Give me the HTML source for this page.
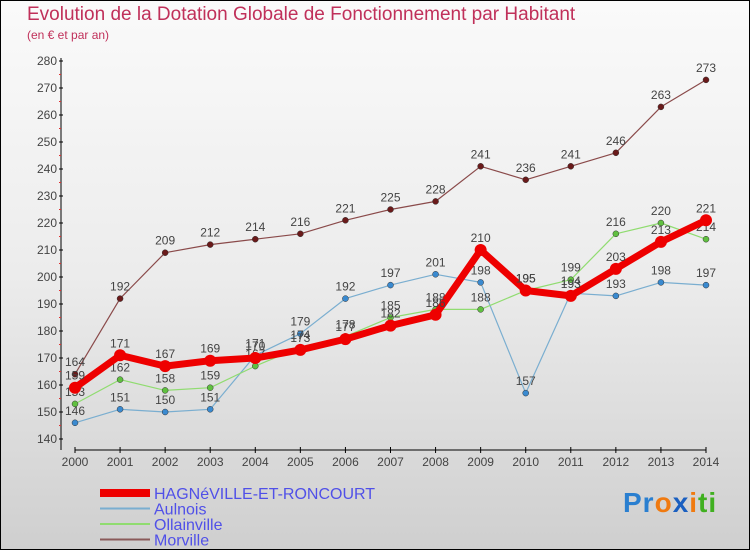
<!DOCTYPE html>
<html><head><meta charset="utf-8"><style>
body{margin:0;}
#wrap{width:748px;height:548px;border:1px solid #000;background:linear-gradient(#fafafa,#ececec 50%,#cfcfcf);position:relative;font-family:"Liberation Sans",sans-serif;overflow:hidden}
.t{position:absolute;white-space:nowrap}
</style></head><body>
<div id="wrap">
<div class="t" style="left:26px;top:3px;font-size:19px;color:#c0305a">Evolution de la Dotation Globale de Fonctionnement par Habitant</div>
<div class="t" style="left:26px;top:27px;font-size:12px;color:#c0305a">(en € et par an)</div>
<svg id="svg" width="750" height="550" style="position:absolute;left:-1px;top:-1px"></svg>
<div class="t" style="left:622px;top:486px;font-size:28px;font-weight:bold;letter-spacing:1px"><span style="color:#2a7fd0">Pr</span><span style="color:#f07a10">o</span><span style="color:#1a5fc0">x</span><span style="color:#f07a10">i</span><span style="color:#40b020">ti</span></div>
</div>
<script>
const years=[2000,2001,2002,2003,2004,2005,2006,2007,2008,2009,2010,2011,2012,2013,2014];
const hagn=[159,171,167,169,170,173,177,182,186,210,195,193,203,213,221];
const aulnois=[146,151,150,151,171,179,192,197,201,198,157,194,193,198,197];
const ollainville=[153,162,158,159,167,174,178,185,188,188,195,199,216,220,214];
const morville=[164,192,209,212,214,216,221,225,228,241,236,241,246,263,273];
const yTicks=[140,150,160,170,180,190,200,210,220,230,240,250,260,270,280];
const NS="http://www.w3.org/2000/svg";
const svg=document.getElementById('svg');
const x=i=>75+i*(631/14);
const y=v=>439-(v-140)*2.7;
function mk(t,a){const e=document.createElementNS(NS,t);for(const k in a)e.setAttribute(k,a[k]);svg.appendChild(e);return e;}
let e=mk('line',{x1:61,y1:58,x2:61,y2:450,stroke:'#000'});


e=mk('line',{x1:75,y1:450,x2:706,y2:450,stroke:'#000'});


yTicks.forEach(v=>{
 mk('line',{x1:59,x2:63,y1:y(v),y2:y(v),stroke:'#000'});
 if(v<280)mk('line',{x1:59,x2:61,y1:y(v+5),y2:y(v+5),stroke:'#e03030'});
 const t=mk('text',{x:57,y:y(v)+4,'text-anchor':'end','font-size':12,fill:'#444'});t.textContent=v;
 
 
});
years.forEach((yr,i)=>{
 mk('line',{x1:x(i),x2:x(i),y1:447,y2:453,stroke:'#000'});
 const t=mk('text',{x:x(i),y:466,'text-anchor':'middle','font-size':12,fill:'#444'});t.textContent=yr;
 
 
});
function series(d,color,w,r,name,dot){
 const p=mk('polyline',{points:d.map((v,i)=>x(i)+','+y(v)).join(' '),fill:'none',stroke:color,'stroke-width':w,'stroke-linejoin':'round'});
 
 
 d.forEach((v,i)=>{
  const c=mk('circle',{cx:x(i),cy:y(v),r:r,fill:dot,stroke:'#333','stroke-width':r>4?0:0.5});
  
  
  const t=mk('text',{x:x(i),y:y(v)-8,'text-anchor':'middle','font-size':12,fill:'#444'});t.textContent=v;
  
  
 });
}
series(morville,'#8a4a4a',1.2,3,'morville','#6a1a1a');
series(aulnois,'#7aaed0',1.2,3,'aulnois','#3a8ad0');
series(ollainville,'#90dc70',1.2,3,'ollainville','#60c040');
series(hagn,'#ee0000',7,6,'hagneville','#ee0000');
const leg=[['HAGNéVILLE-ET-RONCOURT','#ee0000',8],['Aulnois','#7aaed0',2],['Ollainville','#90dc70',2],['Morville','#8a5a5a',2]];
leg.forEach((l,i)=>{
 const yy=493+i*15.5;
 const r=mk('line',{x1:100,x2:150,y1:yy,y2:yy,stroke:l[1],'stroke-width':l[2]});
 
 
 const t=mk('text',{x:154,y:yy+6,'font-size':16,fill:'#5050e8'});t.textContent=l[0];
 
 
});
</script>
</body></html>
